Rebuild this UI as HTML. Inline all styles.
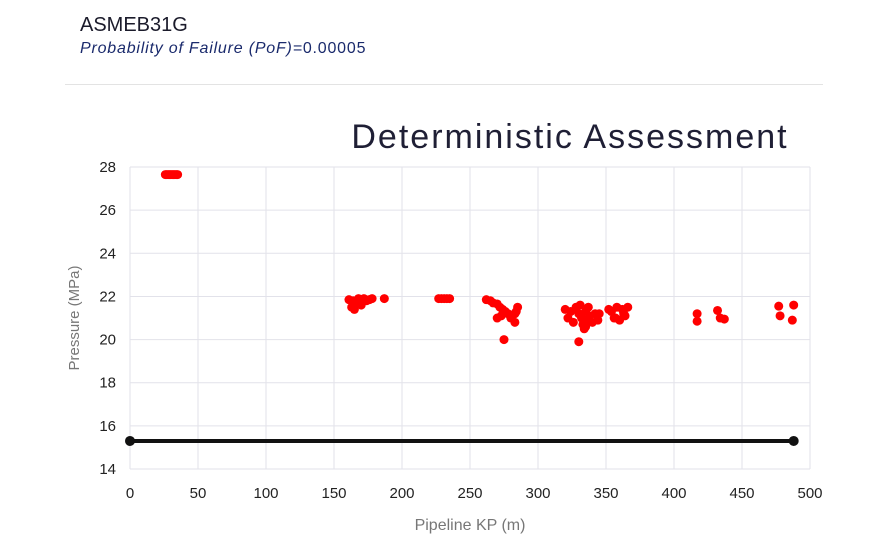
<!DOCTYPE html>
<html><head><meta charset="utf-8">
<style>
body{margin:0;background:#fff;width:888px;height:542px;overflow:hidden;font-family:"Liberation Sans",sans-serif}
#t1{position:absolute;left:80px;top:14px;font-size:20px;color:#1b1b2b}
#t2{position:absolute;left:80px;top:40px;font-size:16px;letter-spacing:0.8px;color:#1a2a6c;font-style:italic}
#t2 span{font-style:normal}
#hr{position:absolute;left:65px;top:84px;width:758px;height:1px;background:#e3e3e3}
svg{position:absolute;left:0;top:0}
</style></head><body>
<div id="t1">ASMEB31G</div>
<div id="t2">Probability of Failure (PoF)=<span>0.00005</span></div>
<div id="hr"></div>
<svg id="chart" width="888" height="542">
<text x="570" y="148" text-anchor="middle" font-size="34" letter-spacing="2" fill="#1f1f35">Deterministic Assessment</text>
<g id="grid"></g><g id="axes"></g><g id="marks"></g>
<text x="470" y="530" text-anchor="middle" font-size="16" fill="#777">Pipeline KP (m)</text>
<text transform="translate(79,318) rotate(-90)" text-anchor="middle" font-size="15" fill="#777">Pressure (MPa)</text>
</svg>
<script>
const xTicks=[0,50,100,150,200,250,300,350,400,450,500];
const yTicks=[14,16,18,20,22,24,26,28];
const kp=[26,27,28,29,30,31,32,33,34,35,
161,163,164,165,166,168,170,172,174,176,178,187,
227,229,231,233,235,
262,265,267,270,272,274,276,278,270,273,275,280,283,284,285,283,
320,322,324,326,328,330,331,332,333,334,335,336,337,338,340,342,344,345,335,330,
352,354,356,358,360,362,364,366,357,363,
417,417,432,434,437,477,478,487,488];
const pressure=[27.65,27.65,27.65,27.65,27.65,27.65,27.65,27.65,27.65,27.65,
21.85,21.5,21.8,21.4,21.7,21.9,21.6,21.9,21.8,21.85,21.9,21.9,
21.9,21.9,21.9,21.9,21.9,
21.85,21.8,21.7,21.65,21.5,21.4,21.3,21.2,21.0,21.1,20.0,21.0,20.8,21.3,21.5,21.2,
21.4,21.0,21.3,20.8,21.5,21.2,21.6,21.0,20.7,20.5,21.3,20.9,21.5,21.1,20.8,21.2,20.9,21.2,20.6,19.9,21.4,
21.3,21.0,21.5,20.9,21.4,21.1,21.5,21.0,21.2,20.85,
21.2,21.35,21.0,20.95,21.55,21.1,20.9,21.6,21.5];
const limitKp=[0,488];
const limitP=[15.3,15.3];
const X=v=>130+v*1.36, Y=v=>469-(v-14)*21.57;
const ns="http://www.w3.org/2000/svg";
function mk(t,a,p){const e=document.createElementNS(ns,t);for(const k in a)e.setAttribute(k,a[k]);p.appendChild(e);return e;}
const grid=document.getElementById('grid'),axes=document.getElementById('axes'),marks=document.getElementById('marks');
xTicks.forEach(v=>{
 const l=mk('line',{x1:X(v),x2:X(v),y1:167,y2:469,stroke:'#e2e2ea'},grid);
 
 
 const t=mk('text',{x:X(v),y:498,'text-anchor':'middle','font-size':15,fill:'#222'},axes);t.textContent=v;
 
 
});
yTicks.forEach(v=>{
 const l=mk('line',{x1:130,x2:810,y1:Y(v),y2:Y(v),stroke:'#e2e2ea'},grid);
 
 
 const t=mk('text',{x:116,y:Y(v)+5,'text-anchor':'end','font-size':15,fill:'#222'},axes);t.textContent=v;
 
 
});
const ll=mk('line',{x1:X(limitKp[0]),x2:X(limitKp[1]),y1:Y(limitP[0]),y2:Y(limitP[1]),stroke:'#111','stroke-width':4},marks);


limitKp.forEach((k,i)=>{const c=mk('circle',{cx:X(k),cy:Y(limitP[i]),r:5,fill:'#111'},marks);
 
 });
kp.forEach((k,i)=>{const c=mk('circle',{cx:X(k),cy:Y(pressure[i]),r:4.5,fill:'#f00'},marks);
 
 });
</script>
</body></html>
